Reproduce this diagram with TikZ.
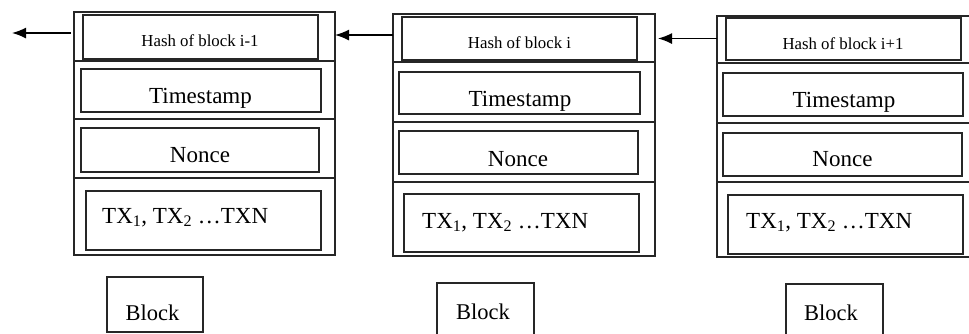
\documentclass[tikz,border=0pt]{standalone}
\usepackage{fontspec}
\setmainfont{Liberation Serif}
\usetikzlibrary{arrows.meta,fit}
\tikzset{
  bx/.style={draw=black!85, line width=1.3pt, inner sep=0pt, outer sep=0pt},
  hashtxt/.style={anchor=base, inner sep=0pt, font=\fontsize{16.8}{19}\selectfont},
  bigtxt/.style={anchor=base, inner sep=0pt, font=\fontsize{23}{26}\selectfont},
  lbltxt/.style={anchor=base, inner sep=0pt, font=\fontsize{22.5}{26}\selectfont},
  txtxt/.style={anchor=base west, inner sep=0pt, font=\fontsize{23}{26}\selectfont},
  arr/.style={line width=1.5pt, -{Latex[length=14pt,width=11pt]}},
}
\begin{document}
\begin{tikzpicture}[x=1pt,y=-1pt]
\clip (0,0) rectangle (969,333);
\fill[white] (0,0) rectangle (969,333);
% ---------- Block 1 ----------
\node[bx, fit={(74,12) (335,255)}] (o1) {};
\draw[bx] (74,61) -- (335,61) (74,119) -- (335,119) (74,178) -- (335,178);
\node[bx, fit={(83,15) (318,59)}] (h1) {};
\node[bx, fit={(81,69) (321,112)}] (s1) {};
\node[bx, fit={(81,128) (319,172)}] (n1) {};
\node[bx, fit={(86,191) (321,250)}] (x1) {};
\node[hashtxt] (th1) at (200,46) {Hash of block i-1};
\node[bigtxt] (ts1) at (200.5,103) {Timestamp};
\node[bigtxt] (tn1) at (200,162) {Nonce};
\node[txtxt] (tx1) at (102,223) {TX\textsubscript{1}, TX\textsubscript{2} …TXN};
\node[bx, fit={(107,277) (203,332)}] (l1) {};
\node[lbltxt] (lt1) at (152.5,320) {Block};
% ---------- Block 2 ----------
\node[bx, fit={(393,14) (655,256)}] (o2) {};
\draw[bx] (393,62) -- (655,62) (393,122) -- (655,122) (393,182) -- (655,182);
\node[bx, fit={(402,17) (637,60)}] (h2) {};
\node[bx, fit={(399,72) (640,114)}] (s2) {};
\node[bx, fit={(399,131) (638,174)}] (n2) {};
\node[bx, fit={(404,194) (639,252)}] (x2) {};
\node[hashtxt] (th2) at (519.5,48) {Hash of block i};
\node[bigtxt] (ts2) at (520,106) {Timestamp};
\node[bigtxt] (tn2) at (518,166) {Nonce};
\node[txtxt] (tx2) at (422,228) {TX\textsubscript{1}, TX\textsubscript{2} …TXN};
\node[bx, fit={(437,283) (534,340)}] (l2) {};
\node[lbltxt] (lt2) at (483,319) {Block};
% ---------- Block 3 ----------
\node[bx, fit={(717,16) (978,257)}] (o3) {};
\draw[bx] (717,63) -- (978,63) (717,123) -- (978,123) (717,182) -- (978,182);
\node[bx, fit={(726,18) (961,60)}] (h3) {};
\node[bx, fit={(723,73) (963,116)}] (s3) {};
\node[bx, fit={(723,133) (962,176)}] (n3) {};
\node[bx, fit={(728,195) (963,254)}] (x3) {};
\node[hashtxt] (th3) at (843,49) {Hash of block i+1};
\node[bigtxt] (ts3) at (844,107) {Timestamp};
\node[bigtxt] (tn3) at (842.5,166) {Nonce};
\node[txtxt] (tx3) at (746,228) {TX\textsubscript{1}, TX\textsubscript{2} …TXN};
\node[bx, fit={(786,284) (883,340)}] (l3) {};
\node[lbltxt] (lt3) at (831,320) {Block};
% ---------- arrows ----------
\coordinate (y1) at (0,33);
\coordinate (y2) at (0,35);
\coordinate (y3) at (0,38.5);
\coordinate (free) at (12,33);
\draw[arr, shorten <=3pt] (o1.west |- y1) -- (free);
\draw[arr] (o2.west |- y2) -- (o1.east |- y2);
\draw[arr, shorten >=3pt] (o3.west |- y3) -- (o2.east |- y3);
\end{tikzpicture}
\end{document}
